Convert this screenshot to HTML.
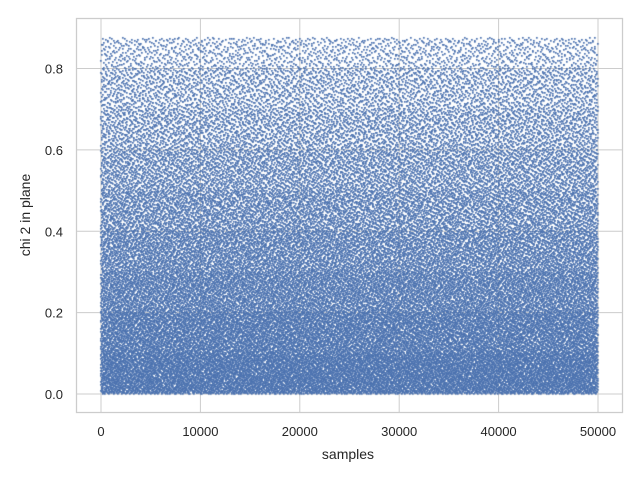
<!DOCTYPE html>
<html><head><meta charset="utf-8"><style>
body{margin:0;background:#fff;font-family:"Liberation Sans",sans-serif;}
#wrap{position:relative;width:640px;height:480px;}
canvas,svg{position:absolute;left:0;top:0;}
</style></head><body>
<div id="wrap">
<svg width="640" height="480">
<g id="grid"></g>
</svg>
<canvas id="c" width="640" height="480"></canvas>
<svg width="640" height="480">
<rect x="76.5" y="18.5" width="546" height="394" fill="none" stroke="#cccccc" stroke-width="1.25"/>
<g id="labels" font-size="13" fill="#262626"></g>
<text x="348" y="459" text-anchor="middle" font-size="14" fill="#262626">samples</text>
<text transform="translate(30,215) rotate(-90)" text-anchor="middle" font-size="14" fill="#262626">chi 2 in plane</text>
</svg>
</div>
<script>
// data: relative point density per y-bin (bin edges in chi2 units)
const binEdges=[0,0.1,0.2,0.3,0.4,0.5,0.6,0.7,0.8,0.875];
const binDensity=[1.0,0.85,0.7,0.6,0.5,0.42,0.34,0.27,0.18];
const sampleMax=50000;
const xTicks=[0,10000,20000,30000,40000,50000];
const yTicks=[0.0,0.2,0.4,0.6,0.8];
const pointsPerFullBin=11000;

const X=v=>101+v*(598-101)/50000;
const Y=v=>394-v*(394-68.5)/0.8;
const NS='http://www.w3.org/2000/svg';
const grid=document.getElementById('grid'),labels=document.getElementById('labels');
xTicks.forEach(t=>{
  const l=document.createElementNS(NS,'line');
  l.setAttribute('x1',X(t));l.setAttribute('x2',X(t));l.setAttribute('y1',18);l.setAttribute('y2',412);
  l.setAttribute('stroke','#cccccc');l.setAttribute('stroke-width','1');
  
  
  grid.appendChild(l);
  const tx=document.createElementNS(NS,'text');
  tx.setAttribute('x',X(t));tx.setAttribute('y',436);tx.setAttribute('text-anchor','middle');
  tx.textContent=t;
  
  
  labels.appendChild(tx);
});
yTicks.forEach(t=>{
  const l=document.createElementNS(NS,'line');
  l.setAttribute('x1',76);l.setAttribute('x2',623);l.setAttribute('y1',Y(t));l.setAttribute('y2',Y(t));
  l.setAttribute('stroke','#cccccc');l.setAttribute('stroke-width','1');
  
  
  grid.appendChild(l);
  const tx=document.createElementNS(NS,'text');
  tx.setAttribute('x',63);tx.setAttribute('y',Y(t)+5);tx.setAttribute('text-anchor','end');
  tx.textContent=t.toFixed(1);
  
  
  labels.appendChild(tx);
});
function halton(i,b){let f=1,r=0;while(i>0){f/=b;r+=f*(i%b);i=Math.floor(i/b);}return r;}
const ctx=document.getElementById('c').getContext('2d');
ctx.fillStyle='#4c72b0';
let idx=1;
for(let b=0;b<binDensity.length;b++){
  const lo=binEdges[b],hi=binEdges[b+1];
  const n=Math.round(pointsPerFullBin*binDensity[b]*(hi-lo)/0.1);
  for(let k=0;k<n;k++,idx++){
    const sx=halton(idx,2)*sampleMax, sy=lo+halton(idx,3)*(hi-lo);
    ctx.fillRect(Math.round(X(sx))-1,Math.round(Y(sy))-1,1.7,1.7);
  }
}
</script>
</body></html>
